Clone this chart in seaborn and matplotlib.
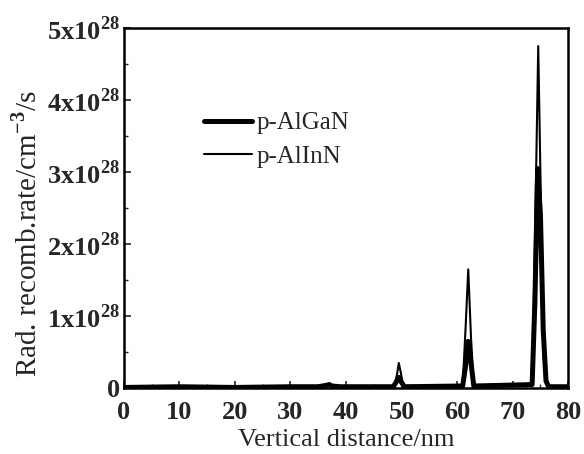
import numpy as np
import pandas as pd
import matplotlib
matplotlib.use("Agg")
import matplotlib.pyplot as plt
import seaborn as sns
from matplotlib.ticker import FixedLocator, FixedFormatter, MultipleLocator

sns.set_style("ticks")
plt.rcParams['font.family'] = ['Liberation Serif', 'DejaVu Serif']
plt.rcParams['mathtext.fontset'] = 'custom'
plt.rcParams['mathtext.rm'] = 'Liberation Serif:bold'
plt.rcParams['mathtext.bf'] = 'Liberation Serif:bold'

# Data (values in units of 1e28 cm^-3/s)
x_algan = [0, 10, 20, 30, 35, 36.5, 37, 37.5, 39, 48.5, 49, 49.5, 50, 50.5,
           61, 61.5, 62, 62.5, 63, 73.5, 74, 74.5, 75, 75.5, 76, 76.5, 80]
y_algan = [0.01, 0.02, 0.01, 0.02, 0.02, 0.04, 0.05, 0.03, 0.02, 0.02, 0.08, 0.15, 0.08, 0.02,
           0.03, 0.30, 0.65, 0.35, 0.03, 0.05, 1.20, 3.05, 2.40, 0.80, 0.10, 0.02, 0.02]
x_alinn = [0, 10, 20, 30, 35, 36.5, 37, 37.5, 39, 48.7, 49.2, 49.5, 49.9, 50.3,
           61, 61.5, 62, 62.5, 63, 73.5, 74, 74.6, 75.1, 75.6, 76, 76.5, 80]
y_alinn = [0.01, 0.02, 0.01, 0.02, 0.02, 0.04, 0.06, 0.03, 0.02, 0.02, 0.20, 0.35, 0.20, 0.02,
           0.03, 0.80, 1.65, 0.70, 0.03, 0.05, 2.00, 4.75, 2.50, 0.40, 0.05, 0.02, 0.02]
series_names = ["p-AlGaN", "p-AlInN"]
ytick_vals = [0, 1, 2, 3, 4, 5]
ytick_labels = ["0", "1x10$^{28}$", "2x10$^{28}$", "3x10$^{28}$", "4x10$^{28}$", "5x10$^{28}$"]
xtick_vals = [0, 10, 20, 30, 40, 50, 60, 70, 80]

df = pd.concat([
    pd.DataFrame({"x": x_algan, "y": y_algan, "s": series_names[0]}),
    pd.DataFrame({"x": x_alinn, "y": y_alinn, "s": series_names[1]}),
])

fig = plt.figure(figsize=(5.84, 4.54), dpi=100)
ax = fig.add_axes([0.212, 0.145, 0.761, 0.793])

sns.lineplot(data=df, x="x", y="y", hue="s", size="s",
             sizes={series_names[0]: 3.6, series_names[1]: 1.5},
             palette={series_names[0]: "black", series_names[1]: "black"},
             ax=ax, sort=False, estimator=None, legend=True)

ax.set_xlim(0, 80)
ax.set_ylim(0, 5)
ax.xaxis.set_major_locator(FixedLocator(xtick_vals))
ax.xaxis.set_minor_locator(MultipleLocator(5))
ax.yaxis.set_major_locator(FixedLocator(ytick_vals))
ax.yaxis.set_major_formatter(FixedFormatter(ytick_labels))
ax.yaxis.set_minor_locator(MultipleLocator(0.5))
ax.tick_params(direction='in', which='both', top=False, right=False)
ax.tick_params(which='major', length=5, width=1.2, labelsize=19)
ax.tick_params(axis='x', which='major', pad=9)
ax.tick_params(axis='y', which='major', pad=3)
ax.tick_params(which='minor', length=3, width=1.0)
for lab in ax.get_xticklabels() + ax.get_yticklabels():
    lab.set_fontweight('bold')
for sp in ax.spines.values():
    sp.set_visible(True)
    sp.set_linewidth(1.8)
    sp.set_color('black')

ax.set_xlabel("Vertical distance/nm", fontsize=19, labelpad=4)
ax.set_ylabel("Rad. recomb.rate/cm$^{-3}$/s", fontsize=21)
ax.yaxis.set_label_coords(-0.183, 0.43)

handles, labels = ax.get_legend_handles_labels()
leg = ax.legend(handles=handles, labels=labels, frameon=False, fontsize=18,
                loc='upper left', bbox_to_anchor=(0.13, 0.83),
                handlelength=1.9, handletextpad=0.2, labelspacing=0.45)

fig.savefig("out.png", dpi=100)
